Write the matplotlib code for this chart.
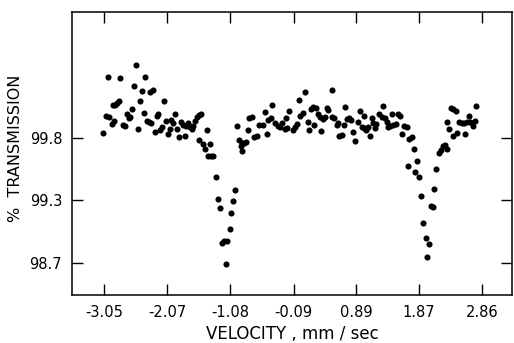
"""
Mossbauer transmission spectrum.
"""
import matplotlib
matplotlib.use("Agg")
import matplotlib.pyplot as plt
import numpy as np

# velocity (mm/sec)
velocity = [
    -3.066, -3.028, -2.997, -2.972, -2.934, -2.894, -2.919, -2.883, -2.847, -2.820,
    -2.800, -2.762, -2.726, -2.700, -2.664, -2.643, -2.622, -2.586, -2.554, -2.528,
    -2.497, -2.456, -2.434, -2.409, -2.387, -2.356, -2.320, -2.336, -2.289, -2.253,
    -2.231, -2.206, -2.179, -2.148, -2.117, -2.085, -2.054, -2.027, -2.007, -1.971,
    -1.940, -1.909, -1.882, -1.846, -1.815, -1.777, -1.784, -1.737, -1.710, -1.679,
    -1.658, -1.632, -1.605, -1.574, -1.543, -1.574, -1.502, -1.480, -1.449, -1.393,
    -1.424, -1.387, -1.346, -1.304, -1.277, -1.241, -1.214, -1.179, -1.136, -1.152,
    -1.089, -1.069, -1.042, -1.006, -0.970, -0.939, -0.902, -0.866, -0.830, -0.913,
    -0.892, -0.799, -0.783, -0.745, -0.709, -0.667, -0.627, -0.564, -0.537, -0.501,
    -0.486, -0.444, -0.423, -0.381, -0.339, -0.303, -0.276, -0.229, -0.198, -0.209,
    -0.162, -0.095, -0.064, -0.042, -0.006, 0.014, 0.061, 0.093, 0.130, 0.146,
    0.177, 0.218, 0.255, 0.229, 0.287, 0.322, 0.333, 0.374, 0.401, 0.427,
    0.452, 0.510, 0.515, 0.546, 0.584, 0.620, 0.604, 0.662, 0.698, 0.713,
    0.740, 0.776, 0.802, 0.834, 0.870, 0.921, 0.948, 0.974, 1.010, 1.042,
    1.015, 1.068, 1.099, 1.131, 1.156, 1.193, 1.182, 1.250, 1.287, 1.308,
    1.339, 1.365, 1.390, 1.417, 1.448, 1.469, 1.511, 1.547, 1.573, 1.609,
    1.636, 1.678, 1.719, 1.756, 1.792, 1.703, 1.815, 1.846, 1.867, 1.902,
    1.938, 1.976, 2.027, 1.996, 2.058, 2.094, 2.110, 2.136, 2.187, 2.219,
    2.250, 2.277, 2.303, 2.313, 2.344, 2.371, 2.407, 2.444, 2.407, 2.460,
    2.500, 2.538, 2.574, 2.616, 2.590, 2.647, 2.668, 2.704, 2.719, 2.746,
    2.762,
]

# % transmission for each point
transmission = [
    99.835, 99.972, 100.284, 99.962, 99.906, 99.935, 100.057, 100.060, 100.073, 100.091,
    100.271, 99.901, 99.895, 99.988, 99.954, 99.962, 100.028, 100.213, 100.375, 99.867,
    100.094, 100.171, 99.998, 100.282, 99.933, 99.925, 99.914, 100.160, 100.176, 99.843,
    99.972, 99.990, 99.861, 99.883, 100.094, 99.930, 99.829, 99.867, 99.940, 99.919,
    99.990, 99.869, 99.803, 99.927, 99.901, 99.893, 99.813, 99.914, 99.883, 99.871,
    99.893, 99.935, 99.962, 99.978, 99.988, 99.782, 99.748, 99.710, 99.861, 99.750,
    99.652, 99.652, 99.652, 99.490, 99.311, 99.230, 98.897, 98.913, 98.917, 98.693,
    99.026, 99.179, 99.290, 99.385, 99.893, 99.782, 99.760, 99.758, 99.763, 99.729,
    99.694, 99.856, 99.954, 99.967, 99.803, 99.811, 99.898, 99.898, 100.004, 99.832,
    99.940, 99.956, 100.060, 99.914, 99.893, 99.883, 99.919, 99.867, 99.875, 99.959,
    100.012, 99.861, 99.885, 99.906, 100.099, 99.972, 99.994, 100.160, 99.927, 99.859,
    100.028, 100.041, 100.038, 99.898, 99.988, 99.962, 99.851, 99.948, 99.962, 100.033,
    100.020, 100.179, 99.967, 99.954, 99.901, 99.813, 99.913, 99.821, 99.898, 100.046,
    99.948, 99.954, 99.940, 99.848, 99.774, 99.927, 100.012, 99.887, 99.875, 99.861,
    99.972, 99.883, 99.813, 99.959, 99.919, 99.909, 99.875, 99.986, 99.967, 100.052,
    99.954, 99.927, 99.887, 99.893, 99.986, 99.901, 99.909, 99.986, 99.972, 99.827,
    99.895, 99.883, 99.790, 99.808, 99.710, 99.570, 99.525, 99.617, 99.483, 99.337,
    99.083, 98.945, 98.888, 98.757, 99.249, 99.237, 99.388, 99.549, 99.681, 99.702,
    99.734, 99.742, 99.708, 99.927, 99.867, 100.033, 100.025, 100.014, 99.816, 99.835,
    99.927, 99.919, 99.914, 99.922, 99.827, 99.972, 99.927, 99.914, 99.893, 99.933,
    100.052,
]

x_ticks = [-3.05, -2.07, -1.08, -0.09, 0.89, 1.87, 2.86]
x_tick_labels = ["-3.05", "-2.07", "-1.08", "-0.09", "0.89", "1.87", "2.86"]
y_ticks = [98.7, 99.3, 99.8]
y_tick_labels = ["98.7", "99.3", "99.8"]


# The original axis is not linear: 99.3 -> 98.7 takes the same room as 99.8 -> 99.3.
def forward(v):
    v = np.asarray(v, dtype=float)
    return np.where(v >= 99.3, v, 99.3 - (99.3 - v) * 0.5 / 0.6)


def inverse(u):
    u = np.asarray(u, dtype=float)
    return np.where(u >= 99.3, u, 99.3 - (99.3 - u) * 0.6 / 0.5)


plt.rcParams['font.family'] = ['DejaVu Sans']

fig = plt.figure(figsize=(5.14, 3.43), dpi=100)
ax = fig.add_axes([0.140, 0.140, 0.856, 0.825])

ax.plot(velocity, transmission, 'o', color='black', markersize=4.4,
        markeredgewidth=0)

ax.set_yscale('function', functions=(forward, inverse))
ax.set_xlim(-3.555, 3.324)
ax.set_ylim(98.398, 100.798)

ax.set_xticks(x_ticks)
ax.set_xticklabels(x_tick_labels)
ax.set_yticks(y_ticks)
ax.set_yticklabels(y_tick_labels)
ax.minorticks_off()

ax.tick_params(direction='in', top=True, right=True, length=8, width=1,
               labelsize=10.5, pad=7)
for spine in ax.spines.values():
    spine.set_linewidth(1.1)

ax.set_xlabel('VELOCITY , mm / sec', fontsize=12, labelpad=4)
ax.set_ylabel('%  TRANSMISSION', fontsize=11.5)
# keep the y label inside the figure, like the scan
ax.yaxis.set_label_coords(-0.112, 0.52)

fig.savefig('out.png', dpi=100)
